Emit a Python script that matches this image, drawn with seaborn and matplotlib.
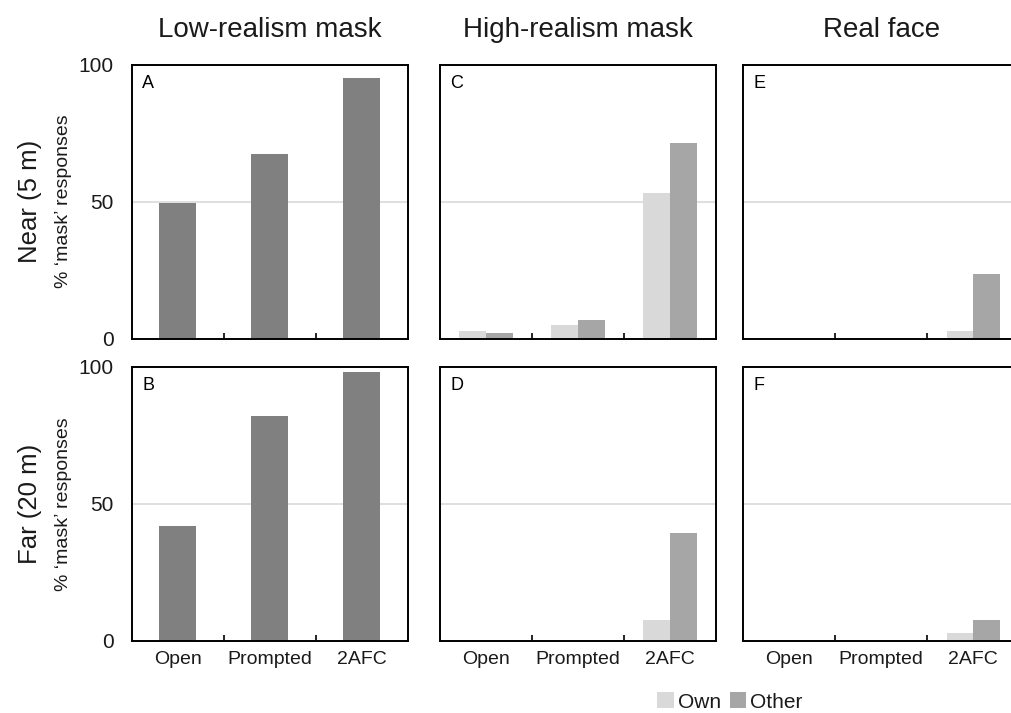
import matplotlib
matplotlib.use("Agg")
import matplotlib.pyplot as plt
from matplotlib.patches import Patch
import seaborn as sns
import pandas as pd

# Response conditions and groups
conditions = ["Open", "Prompted", "2AFC"]
groups = ["Own", "Other"]

# % 'mask' responses, low-realism mask (single series)
low_near = [49.5, 67.5, 95]
low_far = [42, 82, 98]

# High-realism mask, by own / other group
high_near_own = [3, 5, 53]
high_near_other = [2, 7, 71.5]
high_far_own = [0, 0, 7.5]
high_far_other = [0, 0, 39.5]

# Real face, by own / other group
real_near_own = [0, 0, 3]
real_near_other = [0, 0, 23.5]
real_far_own = [0, 0, 3]
real_far_other = [0, 0, 7.5]

col_titles = ["Low-realism mask", "High-realism mask", "Real face"]
row_titles = ["Near (5 m)", "Far (20 m)"]
panel_letters = [["A", "C", "E"], ["B", "D", "F"]]
y_ticks = [0, 50, 100]


def single_frame(values):
    return pd.DataFrame({"condition": conditions, "pct": values})


def grouped_frame(own, other):
    rows = []
    for g, vals in zip(groups, [own, other]):
        for c, v in zip(conditions, vals):
            rows.append({"condition": c, "group": g, "pct": v})
    return pd.DataFrame(rows)


panels = [
    [single_frame(low_near), grouped_frame(high_near_own, high_near_other),
     grouped_frame(real_near_own, real_near_other)],
    [single_frame(low_far), grouped_frame(high_far_own, high_far_other),
     grouped_frame(real_far_own, real_far_other)],
]

sns.set_theme(style="white")
plt.rcParams["font.family"] = ["Liberation Sans", "DejaVu Sans"]

W, H = 1011, 713
fig = plt.figure(figsize=(W / 100, H / 100), dpi=100)

lefts = [131.7, 440.0, 743.3]
tops = [64.5, 366.7]
ax_w, ax_h = 276.0, 274.3

single_color = "#808080"
palette = {"Own": "#d9d9d9", "Other": "#a6a6a6"}
text_color = "#1a1a1a"

for r in range(2):
    for c in range(3):
        rect = [lefts[c] / W, 1 - (tops[r] + ax_h) / H, ax_w / W, ax_h / H]
        ax = fig.add_axes(rect)
        df = panels[r][c]
        ax.axhline(50, color="#d9d9d9", lw=1.2, zorder=0)
        if c == 0:
            sns.barplot(data=df, x="condition", y="pct", order=conditions,
                        color=single_color, width=0.4, linewidth=0,
                        saturation=1, ax=ax, zorder=2)
        else:
            sns.barplot(data=df, x="condition", y="pct", hue="group",
                        order=conditions, hue_order=groups, palette=palette,
                        width=0.58, linewidth=0, saturation=1,
                        legend=False, ax=ax, zorder=2)
        ax.set_xlim(-0.5, 2.5)
        ax.set_ylim(0, 100)
        ax.set_xlabel("")
        ax.set_ylabel("")
        for sp in ax.spines.values():
            sp.set_visible(True)
            sp.set_color("black")
            sp.set_linewidth(1.4)
        ax.set_xticks([0, 1, 2])
        ax.set_xticks([0.5, 1.5], minor=True)
        ax.tick_params(axis="x", which="major", length=0, pad=7,
                       labelsize=14, colors=text_color)
        ax.tick_params(axis="x", which="minor", direction="in", length=4,
                       width=1.2, color="black", bottom=True)
        if r == 0:
            ax.set_xticklabels([])
        else:
            ax.set_xticklabels(conditions)
        ax.set_yticks(y_ticks)
        ax.tick_params(axis="y", length=0, pad=13, labelsize=15,
                       colors=text_color)
        if c != 0:
            ax.set_yticklabels([])
        ax.grid(False)
        ax.text(0.038, 0.962, panel_letters[r][c], transform=ax.transAxes,
                ha="left", va="top", fontsize=13, color="black")

# Column headings
for c, t in enumerate(col_titles):
    fig.text((lefts[c] + ax_w / 2) / W, 1 - 30 / H, t, ha="center",
             va="center", fontsize=20, color=text_color)

# Row headings and y-axis labels
for r, t in enumerate(row_titles):
    yc = 1 - (tops[r] + ax_h / 2) / H
    fig.text(30 / W, yc, t, rotation=90, ha="center", va="center",
             fontsize=18.5, color=text_color)
    fig.text(63 / W, yc, "% \u2018mask\u2019 responses", rotation=90,
             ha="center", va="center", fontsize=14, color=text_color)

handles = [Patch(facecolor=palette[g], edgecolor="none", label=g)
           for g in groups]
fig.legend(handles=handles, loc="center", bbox_to_anchor=(730 / W, 1 - 702 / H),
           ncol=2, frameon=False, fontsize=15, handlelength=0.8,
           handleheight=0.8, handletextpad=0.2, columnspacing=0.4,
           labelcolor=text_color)

fig.savefig("out.png", dpi=100)
